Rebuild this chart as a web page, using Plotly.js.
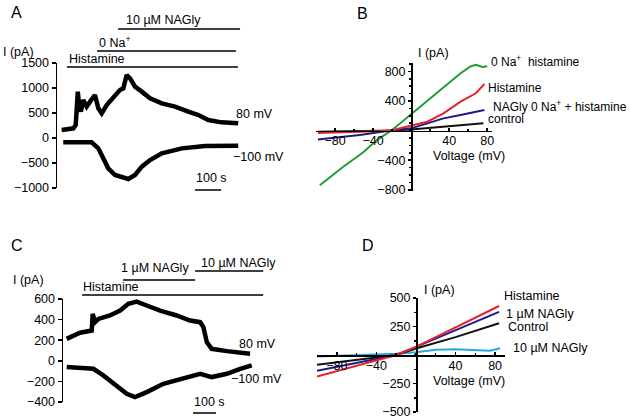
<!DOCTYPE html>
<html><head><meta charset="utf-8">
<script src="https://cdn.plot.ly/plotly-3.0.1.min.js"></script>
<style>html,body{margin:0;padding:0;background:#fff}#c{width:629px;height:420px}</style>
</head><body><div id="c"></div>
<script>
// Panel A: current (pA) vs time (s)
const tA80 = [18, 63, 72, 80, 85, 92, 101, 114, 127, 146, 159, 172, 191, 217, 242, 255, 262, 268, 281, 300, 326, 358, 403, 454, 505, 544, 582, 633, 697];
const iA80 = [160, 193, 260, 927, 660, 527, 760, 627, 727, 860, 593, 493, 660, 827, 960, 993, 1193, 1260, 1193, 1027, 927, 793, 693, 627, 527, 460, 360, 313, 293];
const tA100 = [24, 133, 159, 178, 197, 223, 249, 274, 300, 326, 358, 403, 480, 569, 697];
const iA100 = [-87, -87, -207, -407, -607, -740, -793, -820, -740, -573, -440, -307, -207, -160, -153];
// Panel C
const tC80 = [16, 74, 125, 129, 139, 154, 204, 248, 284, 320, 364, 422, 494, 552, 596, 610, 625, 646, 712, 813];
const iC80 = [213, 272, 294, 456, 375, 407, 440, 488, 553, 575, 537, 488, 440, 391, 375, 327, 181, 116, 94, 68];
const tC100 = [16, 132, 175, 233, 277, 313, 364, 436, 509, 596, 646, 712, 770, 820];
const iC100 = [-61, -78, -142, -239, -320, -352, -304, -223, -175, -126, -158, -126, -78, -45];
// Panel B: I-V curves
const vBgreen = [-96, -72, -50, -36, -20, -1, 17, 34, 52, 62, 68, 75, 80];
const iBgreen = [-740, -495, -290, -129, 7, 210, 390, 572, 775, 865, 888, 860, 870];
const vBred = [-98, -60, -30, -18, 0, 17, 34, 52, 68, 77];
const iBred = [-34, -20, -5, 10, 70, 120, 233, 390, 504, 630];
const vBblue = [-98, -54, -18, 0, 17, 34, 52, 68, 77];
const iBblue = [-120, -61, 7, 30, 97, 165, 210, 255, 278];
const vBblack = [-98, -50, -20, 0, 40, 76];
const iBblack = [-15, -8, 0, 15, 55, 100];
// Panel D
const vDred = [-100, -60, -20, 0, 40, 84];
const iDred = [-190, -95, 0, 71, 243, 430];
const vDblue = [-100, -20, 0, 40, 84];
const iDblue = [-138, 0, 71, 215, 378];
const vDblack = [-100, -20, 0, 40, 84];
const iDblack = [-86, 0, 57, 157, 278];
const vDcyan = [-100, -60, -20, 0, 20, 40, 60, 75, 85];
const iDcyan = [-14, -5, 10, 25, 45, 50, 45, 38, 60];

const W = 629, H = 420;
const px = x => x / W, py = y => 1 - y / H;
const FONT = 'Liberation Sans, Arial, sans-serif';

const thick = {color: '#000', width: 4.5};
const traces = [
  {x: tA80, y: iA80, xaxis: 'x', yaxis: 'y', mode: 'lines', line: thick},
  {x: tA100, y: iA100, xaxis: 'x', yaxis: 'y', mode: 'lines', line: thick},
  {x: tC80, y: iC80, xaxis: 'x3', yaxis: 'y3', mode: 'lines', line: thick},
  {x: tC100, y: iC100, xaxis: 'x3', yaxis: 'y3', mode: 'lines', line: thick},
  {x: vBblack, y: iBblack, xaxis: 'x2', yaxis: 'y2', mode: 'lines', line: {color: '#111', width: 2}},
  {x: vBblue, y: iBblue, xaxis: 'x2', yaxis: 'y2', mode: 'lines', line: {color: '#1c1c86', width: 2}},
  {x: vBred, y: iBred, xaxis: 'x2', yaxis: 'y2', mode: 'lines', line: {color: '#e8222c', width: 2}},
  {x: vBgreen, y: iBgreen, xaxis: 'x2', yaxis: 'y2', mode: 'lines', line: {color: '#1e9b3c', width: 2}},
  {x: vDcyan, y: iDcyan, xaxis: 'x4', yaxis: 'y4', mode: 'lines', line: {color: '#2aa6df', width: 2}},
  {x: vDblack, y: iDblack, xaxis: 'x4', yaxis: 'y4', mode: 'lines', line: {color: '#111', width: 2}},
  {x: vDblue, y: iDblue, xaxis: 'x4', yaxis: 'y4', mode: 'lines', line: {color: '#1c1c86', width: 2}},
  {x: vDred, y: iDred, xaxis: 'x4', yaxis: 'y4', mode: 'lines', line: {color: '#e8222c', width: 2}}
];

const yBase = {showline: true, linecolor: '#000', linewidth: 1.5, ticks: 'outside', ticklen: 4, tickwidth: 1.5,
  tickcolor: '#000', showgrid: false, zeroline: false, tickfont: {family: FONT, size: 12.5, color: '#000'}, fixedrange: true};
const xIV = {ticks: 'inside', ticklen: 3, ticklabelstandoff: -2, tickmode: 'array', tickvals: [-80, -40, 40, 80],
  minor: {tickmode: 'linear', tick0: 0, dtick: 20, ticklen: 2, ticks: 'inside', tickcolor: '#000'}};

const layout = {
  width: W, height: H, margin: {l: 0, r: 0, t: 0, b: 0}, showlegend: false,
  paper_bgcolor: '#fff', plot_bgcolor: 'rgba(0,0,0,0)',
  font: {family: FONT, size: 12.5, color: '#000'},
  xaxis: {domain: [px(57), px(245)], range: [0, 723], visible: false, anchor: 'y'},
  yaxis: Object.assign({}, yBase, {domain: [py(188), py(63)], range: [-1000, 1500], tickmode: 'linear', tick0: 0, dtick: 500, anchor: 'x'}),
  xaxis3: {domain: [px(63), px(280)], range: [0, 943], visible: false, anchor: 'y3'},
  yaxis3: Object.assign({}, yBase, {domain: [py(402), py(299)], range: [-400, 600], tickmode: 'linear', tick0: 0, dtick: 200, anchor: 'x3'}),
  xaxis2: Object.assign({}, yBase, xIV, {domain: [px(316), px(492)], range: [-100, 85], anchor: 'free', position: py(130.5)}),
  yaxis2: Object.assign({}, yBase, {domain: [py(190.5), py(62.5)], range: [-810, 920], anchor: 'free', position: px(411),
    tickmode: 'array', tickvals: [-800, -400, 400, 800], ticklen: 3,
    minor: {tickmode: 'linear', tick0: 0, dtick: 100, ticklen: 2, ticks: 'outside', tickcolor: '#000'}}),
  xaxis4: Object.assign({}, yBase, xIV, {domain: [px(317), px(505)], range: [-100, 90], anchor: 'free', position: py(355)}),
  yaxis4: Object.assign({}, yBase, {domain: [py(412), py(298)], range: [-500, 500], anchor: 'free', position: px(416),
    tickmode: 'array', tickvals: [-500, -250, 250, 500], ticklen: 3,
    minor: {tickmode: 'linear', tick0: 0, dtick: 125, ticklen: 2, ticks: 'outside', tickcolor: '#000'}}),
  shapes: [],
  annotations: []
};

function bar(xref, x0, x1, y) {
  layout.shapes.push({type: 'line', xref: xref, yref: 'paper', x0: x0, x1: x1, y0: py(y), y1: py(y), line: {color: '#000', width: 1.5}});
}
// A bars
bar('x', 38, 696, 67); bar('x', 154, 688, 51); bar('x', 235, 704, 29);
bar('x', 531, 631, 190);
// C bars
bar('x3', 83, 870, 295); bar('x3', 261, 574, 280); bar('x3', 574, 870, 271);
bar('x3', 565, 665, 413);

function txt(t, x, y, size) {
  layout.annotations.push({text: t, xref: 'paper', yref: 'paper', x: px(x), y: py(y), xanchor: 'left', yanchor: 'middle',
    showarrow: false, font: {family: FONT, size: size || 12.5, color: '#000'}});
}
txt('A', 9, 12, 16); txt('B', 355, 13, 16); txt('C', 9, 245, 16); txt('D', 360, 245, 16);
txt('I (pA)', 1, 52); txt('Histamine', 67, 59); txt('0 Na<sup>+</sup>', 97, 42); txt('10 µM NAGly', 124, 20);
txt('80 mV', 234, 114); txt('−100 mV', 231, 157); txt('100 s', 194, 178);
txt('I (pA)', 416, 53); txt('0 Na<sup>+</sup>  histamine', 489, 61, 12); txt('Histamine', 486, 88, 12);
txt('NAGly 0 Na<sup>+</sup> + histamine', 491, 106, 12); txt('control', 486, 119, 12); txt('Voltage (mV)', 431, 156);
txt('I (pA)', 11, 280); txt('Histamine', 81, 287); txt('1 µM NAGly', 119, 268); txt('10 µM NAGly', 199, 263);
txt('80 mV', 237, 344); txt('−100 mV', 229, 379); txt('100 s', 192, 402);
txt('I (pA)', 422, 290); txt('Histamine', 502, 296); txt('1 µM NAGly', 504, 314); txt('Control', 506, 327);
txt('10 µM NAGly', 511, 348); txt('Voltage (mV)', 431, 381);

Plotly.newPlot('c', traces, layout, {staticPlot: true, displayModeBar: false});
</script></body></html>
